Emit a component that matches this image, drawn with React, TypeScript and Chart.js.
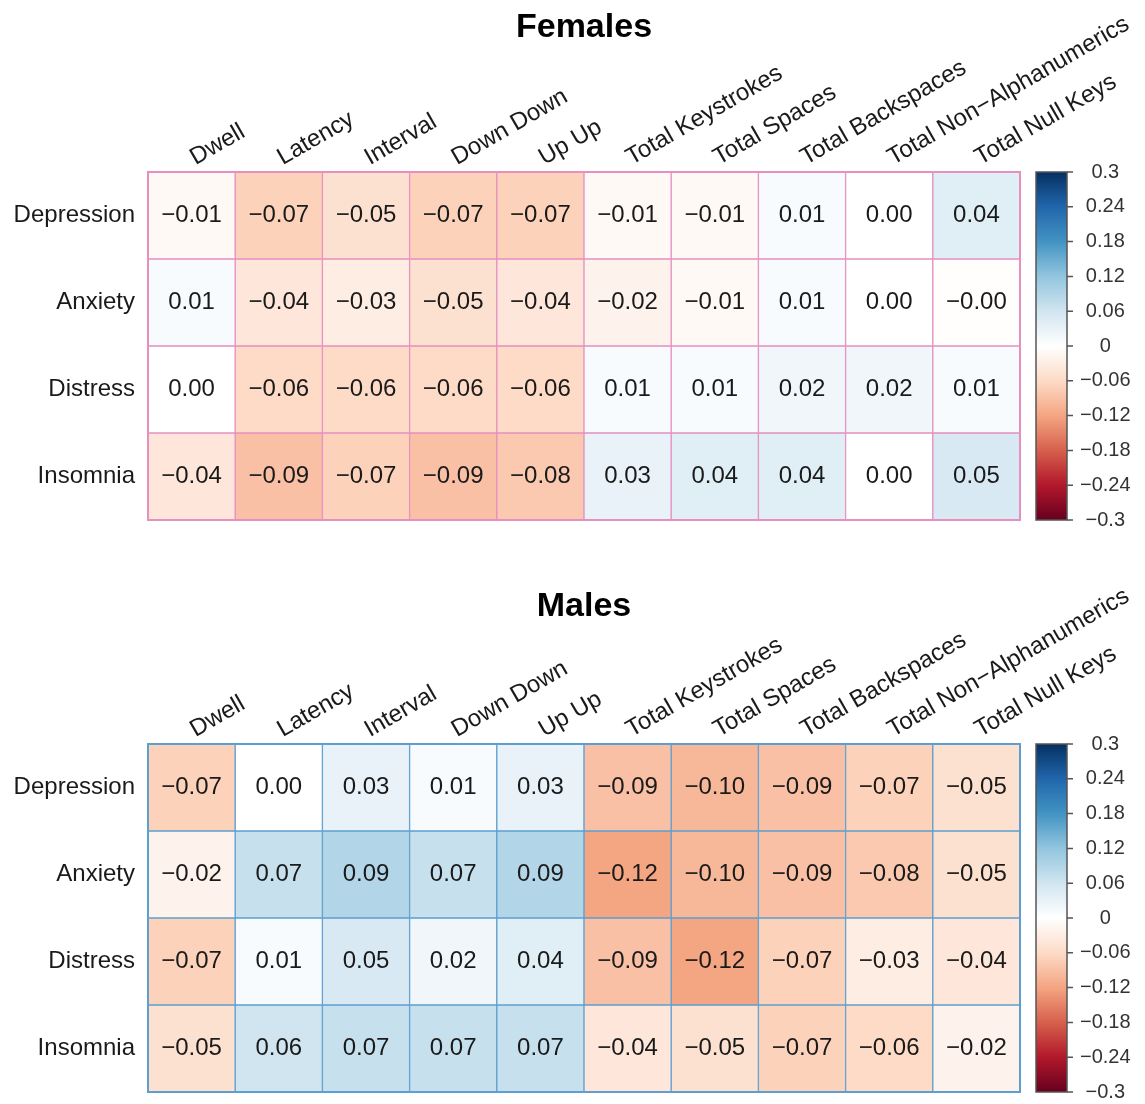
import React, { useEffect, useRef } from 'react';
import { Chart, registerables } from 'chart.js';

Chart.register(...registerables);

const FONT = '"Liberation Sans", Arial, Helvetica, sans-serif';

const rowLabels = ['Depression', 'Anxiety', 'Distress', 'Insomnia'];
const colLabels = [
  'Dwell',
  'Latency',
  'Interval',
  'Down Down',
  'Up Up',
  'Total Keystrokes',
  'Total Spaces',
  'Total Backspaces',
  'Total Non\u2212Alphanumerics',
  'Total Null Keys',
];

// Females
const femaleDepression = [-0.01, -0.07, -0.05, -0.07, -0.07, -0.01, -0.01, 0.01, 0.0, 0.04];
const femaleAnxiety = [0.01, -0.04, -0.03, -0.05, -0.04, -0.02, -0.01, 0.01, 0.0, -0.002];
const femaleDistress = [0.0, -0.06, -0.06, -0.06, -0.06, 0.01, 0.01, 0.02, 0.02, 0.01];
const femaleInsomnia = [-0.04, -0.09, -0.07, -0.09, -0.08, 0.03, 0.04, 0.04, 0.0, 0.05];

// Males
const maleDepression = [-0.07, 0.0, 0.03, 0.01, 0.03, -0.09, -0.1, -0.09, -0.07, -0.05];
const maleAnxiety = [-0.02, 0.07, 0.09, 0.07, 0.09, -0.12, -0.1, -0.09, -0.08, -0.05];
const maleDistress = [-0.07, 0.01, 0.05, 0.02, 0.04, -0.09, -0.12, -0.07, -0.03, -0.04];
const maleInsomnia = [-0.05, 0.06, 0.07, 0.07, 0.07, -0.04, -0.05, -0.07, -0.06, -0.02];

const femaleValues = [femaleDepression, femaleAnxiety, femaleDistress, femaleInsomnia];
const maleValues = [maleDepression, maleAnxiety, maleDistress, maleInsomnia];

const colorbarTicks = [0.3, 0.24, 0.18, 0.12, 0.06, 0, -0.06, -0.12, -0.18, -0.24, -0.3];
const colorMin = -0.3;
const colorMax = 0.3;

// RdBu palette from low (-0.3) to high (0.3)
const palette = [
  '#67001F', '#B2182B', '#D6604D', '#F4A582', '#FDDBC7', '#FFFFFF',
  '#D1E5F0', '#92C5DE', '#4393C3', '#2166AC', '#053061',
];

function hexToRgb(h: string) {
  const n = parseInt(h.slice(1), 16);
  return [(n >> 16) & 255, (n >> 8) & 255, n & 255];
}

function colorFor(v: number) {
  const c = Math.max(colorMin, Math.min(colorMax, v));
  const t = ((c - colorMin) / (colorMax - colorMin)) * (palette.length - 1);
  const i = Math.min(Math.floor(t), palette.length - 2);
  const f = t - i;
  const a = hexToRgb(palette[i]);
  const b = hexToRgb(palette[i + 1]);
  const r = a.map((x, k) => Math.round(x + (b[k] - x) * f));
  return `rgb(${r[0]},${r[1]},${r[2]})`;
}

function fmtCell(v: number) {
  return v.toFixed(2).replace('-', '\u2212');
}

function fmtTick(v: number) {
  if (v === 0) return '0';
  return (v < 0 ? '\u2212' : '') + String(Math.abs(v));
}

function makePlugin(border: string) {
  return {
    id: 'heatExtras',
    afterDatasetsDraw(chart: any) {
      const ctx = chart.ctx;
      ctx.save();
      ctx.font = `24px ${FONT}`;
      ctx.fillStyle = '#1a1a1a';
      ctx.textAlign = 'center';
      ctx.textBaseline = 'middle';
      chart.data.datasets.forEach((ds: any, i: number) => {
        const meta = chart.getDatasetMeta(i);
        meta.data.forEach((el: any, j: number) => {
          const cy = (el.y + el.base) / 2;
          ctx.fillText(fmtCell(ds.cellValues[j]), el.x, cy);
        });
      });
      const a = chart.chartArea;
      ctx.strokeStyle = border;
      ctx.lineWidth = 2;
      ctx.strokeRect(a.left, a.top, a.right - a.left, a.bottom - a.top);
      ctx.restore();
    },
    afterDraw(chart: any) {
      const ctx = chart.ctx;
      const s = chart.scales.y2;
      const top = s.getPixelForValue(colorMax);
      const bot = s.getPixelForValue(colorMin);
      const x0 = chart.chartArea.right + 16;
      const w = 31;
      ctx.save();
      const g = ctx.createLinearGradient(0, bot, 0, top);
      palette.forEach((c, k) => g.addColorStop(k / (palette.length - 1), c));
      ctx.fillStyle = g;
      ctx.fillRect(x0, top, w, bot - top);
      ctx.strokeStyle = '#555';
      ctx.lineWidth = 1.5;
      ctx.strokeRect(x0, top, w, bot - top);
      ctx.beginPath();
      s.ticks.forEach((t: any) => {
        const y = s.getPixelForValue(t.value);
        ctx.moveTo(x0 + w, y);
        ctx.lineTo(x0 + w + 6, y);
      });
      ctx.stroke();
      ctx.restore();
    },
  };
}

type HeatProps = {
  title: string;
  values: number[][];
  border: string;
  top: number;
  height: number;
  titlePadTop: number;
};

function Heatmap({ title, values, border, top, height, titlePadTop }: HeatProps) {
  const ref = useRef<HTMLCanvasElement | null>(null);
  useEffect(() => {
    if (!ref.current) return;
    const titleSize = 34;
    const titlePadBottom = -(titleSize * 1.2) + 2;
    const titleBox = titlePadTop + titleSize * 1.2 + titlePadBottom;
    const areaTop = 172;
    const areaBottom = 520;
    const chart = new Chart(ref.current, {
      type: 'bar',
      data: {
        labels: colLabels,
        datasets: rowLabels.map((r, i) => ({
          label: r,
          data: values[i].map(() => [i, i + 1]),
          cellValues: values[i],
          backgroundColor: values[i].map(colorFor),
          borderColor: border,
          borderWidth: 1,
          borderSkipped: false,
          grouped: false,
          barPercentage: 1,
          categoryPercentage: 1,
        })) as any,
      },
      options: {
        responsive: false,
        animation: false,
        events: [],
        layout: { padding: { left: 0, right: 0, top: 0, bottom: height - areaBottom } },
        plugins: {
          legend: { display: false },
          tooltip: { enabled: false },
          title: {
            display: true,
            text: title,
            fullSize: false,
            color: '#000',
            font: { family: FONT, size: titleSize, weight: 'bold' },
            padding: { top: titlePadTop, bottom: titlePadBottom },
          },
        },
        scales: {
          x: {
            type: 'category',
            position: 'top',
            offset: true,
            grid: { display: false, drawTicks: false },
            border: { display: false },
            ticks: {
              autoSkip: false,
              minRotation: 30,
              maxRotation: 30,
              padding: 0,
              labelOffset: 15,
              color: '#1a1a1a',
              font: { family: FONT, size: 24 },
            },
            afterFit: (s: any) => {
              s.height = areaTop - titleBox;
            },
          },
          y: {
            type: 'linear',
            min: 0,
            max: rowLabels.length,
            reverse: true,
            grid: { display: false, drawTicks: true, tickLength: 13 },
            border: { display: false },
            afterBuildTicks: (s: any) => {
              s.ticks = rowLabels.map((_, i) => ({ value: i + 0.5 }));
            },
            ticks: {
              callback: (_v: any, i: number) => rowLabels[i],
              padding: 0,
              color: '#1a1a1a',
              font: { family: FONT, size: 24, lineHeight: 1 },
            },
            afterFit: (s: any) => {
              s.width = 148;
            },
          },
          y2: {
            type: 'linear',
            position: 'right',
            min: colorMin,
            max: colorMax,
            grid: { display: false, drawTicks: true, tickLength: 60 },
            border: { display: false },
            afterBuildTicks: (s: any) => {
              s.ticks = colorbarTicks.map((v) => ({ value: v }));
            },
            ticks: {
              callback: (v: any) => fmtTick(Number(v)),
              crossAlign: 'center',
              padding: 0,
              color: '#333',
              font: { family: FONT, size: 20, lineHeight: 1 },
            },
            afterFit: (s: any) => {
              s.width = 125;
            },
          },
        },
      } as any,
      plugins: [makePlugin(border)],
    });
    return () => chart.destroy();
  }, []);
  return (
    <canvas
      ref={ref}
      width={1145}
      height={height}
      style={{ position: 'absolute', left: 0, top, width: 1145, height, display: 'block' }}
    />
  );
}

export default function App() {
  return (
    <div style={{ position: 'absolute', left: 0, top: 0, width: 1145, height: 1104, background: '#fff' }}>
      <Heatmap title="Females" values={femaleValues} border="#E68FC1" top={0} height={552} titlePadTop={7} />
      <Heatmap title="Males" values={maleValues} border="#5C9FD0" top={572} height={532} titlePadTop={14} />
    </div>
  );
}
